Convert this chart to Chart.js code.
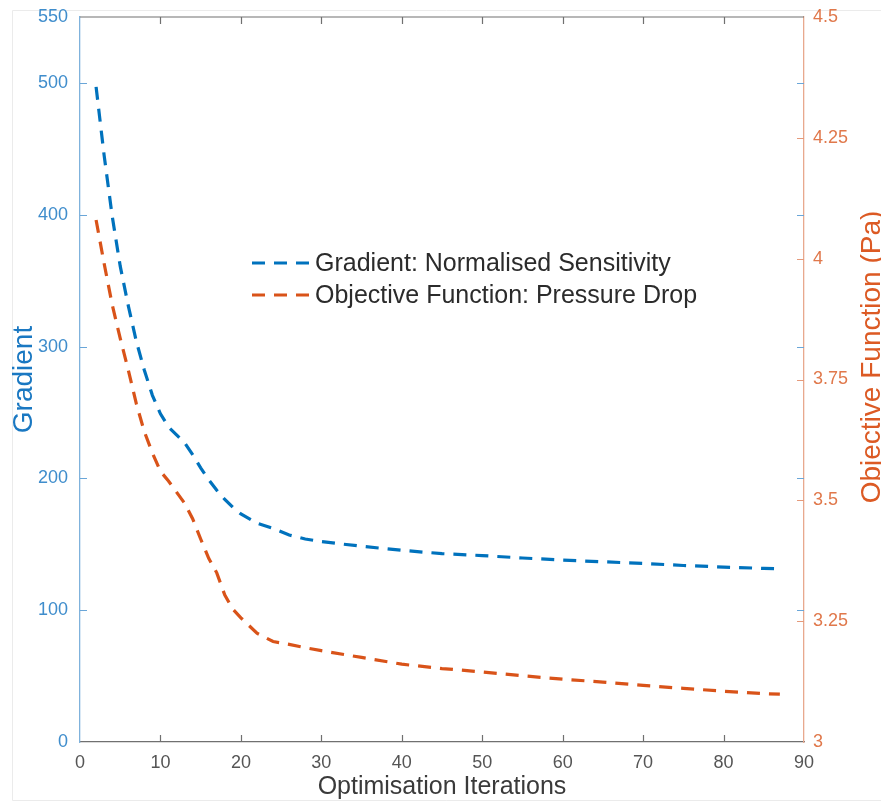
<!DOCTYPE html>
<html>
<head>
<meta charset="utf-8">
<title>Optimisation convergence</title>
<script src="https://cdn.jsdelivr.net/npm/chart.js@4"></script>
<style>
  html, body { margin: 0; padding: 0; background: #ffffff; }
  #wrap { width: 881px; height: 803px; position: relative; overflow: hidden; }
</style>
</head>
<body>
<div id="wrap"><canvas id="chart" width="881" height="803"></canvas></div>
<script>
// Optimisation iteration at which each value was recorded
const iterations = [2, 3, 4, 5, 6, 7, 8, 9, 10, 11, 12, 13, 14, 15, 16, 17, 18, 19, 20,
  22, 24, 26, 28, 30, 35, 40, 45, 50, 55, 60, 65, 70, 75, 80, 85, 87];

// Normalised sensitivity (left axis)
const gradient = [497, 445, 399, 361, 331, 304, 282, 263, 249, 239, 233, 227, 218, 208, 199, 191, 184, 178, 173,
  166, 162, 157, 154, 152, 148.5, 145.4, 142.9, 141.4, 139.6, 138.0, 136.7, 135.5, 133.9, 132.7, 131.7, 131.5];

// Pressure drop in Pa (right axis)
const pressureDrop = [4.08, 3.99, 3.905, 3.835, 3.77, 3.70, 3.642, 3.598, 3.56, 3.54, 3.517, 3.494, 3.462, 3.42, 3.38, 3.35, 3.304, 3.275, 3.257,
  3.225, 3.208, 3.202, 3.195, 3.189, 3.175, 3.161, 3.152, 3.145, 3.137, 3.130, 3.124, 3.117, 3.111, 3.105, 3.100, 3.099];

// Tick values
const xTicks = [0, 10, 20, 30, 40, 50, 60, 70, 80, 90];
const gradientTicks = [0, 100, 200, 300, 400, 500, 550];
const pressureTicks = [3, 3.25, 3.5, 3.75, 4, 4.25, 4.5];

const seriesNames = ['Gradient: Normalised Sensitivity', 'Objective Function: Pressure Drop'];

const BLUE = '#0072BD';
const ORANGE = '#D95319';
const FONT = "'Liberation Sans', Arial, Helvetica, sans-serif";
const DASH = [13, 9];

const points = (ys) => iterations.map((x, i) => ({ x, y: ys[i] }));
const setTicks = (values) => (scale) => { scale.ticks = values.map(v => ({ value: v })); };
// fixed box sizes so the plot area sits at the same place every time
const fixWidth = (w) => (s) => { s.width = w; s.paddingTop = 0; s.paddingBottom = 0; };

// Frame, top edge, inward tick marks, right-hand title and in-plot legend
const decor = {
  id: 'decor',
  beforeDraw(chart) {
    const ctx = chart.ctx;
    ctx.save();
    ctx.fillStyle = '#ffffff';
    ctx.fillRect(0, 0, chart.width, chart.height);
    ctx.strokeStyle = '#ebebeb';
    ctx.lineWidth = 1;
    ctx.beginPath();
    ctx.moveTo(chart.width, 10.5);
    ctx.lineTo(12.5, 10.5);
    ctx.lineTo(12.5, 800.5);
    ctx.lineTo(chart.width, 800.5);
    ctx.stroke();
    ctx.restore();
  },
  afterDraw(chart) {
    const { ctx, chartArea: a, scales } = chart;
    const x = scales.x, y = scales.y, y1 = scales.y1;
    const TL = 7;
    ctx.save();

    // top edge of the box
    ctx.strokeStyle = '#707070';
    ctx.lineWidth = 1.2;
    ctx.beginPath();
    ctx.moveTo(a.left, a.top);
    ctx.lineTo(a.right, a.top);
    ctx.stroke();

    // x ticks, bottom and top, pointing inward
    ctx.beginPath();
    xTicks.forEach(v => {
      if (v === x.min || v === x.max) return;
      const px = Math.round(x.getPixelForValue(v)) + 0.5;
      ctx.moveTo(px, a.bottom); ctx.lineTo(px, a.bottom - TL);
      ctx.moveTo(px, a.top); ctx.lineTo(px, a.top + TL);
    });
    ctx.stroke();

    // gradient ticks on both vertical edges
    ctx.strokeStyle = '#6aa6d8';
    ctx.beginPath();
    gradientTicks.forEach(v => {
      if (v === y.min || v === y.max) return;
      const py = Math.round(y.getPixelForValue(v)) + 0.5;
      ctx.moveTo(a.left, py); ctx.lineTo(a.left + TL, py);
      ctx.moveTo(a.right, py); ctx.lineTo(a.right - TL, py);
    });
    ctx.stroke();

    // pressure ticks on the right edge
    ctx.strokeStyle = '#e59a7b';
    ctx.beginPath();
    pressureTicks.forEach(v => {
      if (v === y1.min || v === y1.max) return;
      const py = Math.round(y1.getPixelForValue(v)) + 0.5;
      ctx.moveTo(a.right, py); ctx.lineTo(a.right - TL, py);
    });
    ctx.stroke();

    // right axis title, reading upward
    ctx.save();
    ctx.translate(880, 357);
    ctx.rotate(-Math.PI / 2);
    ctx.font = '28px ' + FONT;
    ctx.fillStyle = '#dc5a24';
    ctx.textAlign = 'center';
    ctx.textBaseline = 'alphabetic';
    ctx.fillText('Objective Function (Pa)', 0, 0);
    ctx.restore();

    // legend
    const rows = [263, 295];
    chart.data.datasets.forEach((ds, i) => {
      const ly = rows[i];
      ctx.save();
      ctx.strokeStyle = ds.borderColor;
      ctx.lineWidth = ds.borderWidth;
      ctx.setLineDash(DASH);
      ctx.beginPath();
      ctx.moveTo(252, ly);
      ctx.lineTo(311, ly);
      ctx.stroke();
      ctx.restore();
      ctx.font = '25px ' + FONT;
      ctx.fillStyle = '#2b2b2b';
      ctx.textAlign = 'left';
      ctx.textBaseline = 'middle';
      ctx.fillText(ds.label, 315, ly + 1);
    });

    ctx.restore();
  }
};

new Chart(document.getElementById('chart'), {
  type: 'line',
  data: {
    datasets: [
      {
        label: seriesNames[0],
        data: points(gradient),
        yAxisID: 'y',
        borderColor: BLUE,
        borderWidth: 3.2,
        borderDash: DASH,
        borderCapStyle: 'butt',
        pointRadius: 0,
        tension: 0,
        fill: false
      },
      {
        label: seriesNames[1],
        data: points(pressureDrop),
        yAxisID: 'y1',
        borderColor: ORANGE,
        borderWidth: 3.2,
        borderDash: DASH,
        borderCapStyle: 'butt',
        pointRadius: 0,
        tension: 0,
        fill: false
      }
    ]
  },
  options: {
    responsive: false,
    animation: false,
    devicePixelRatio: 1,
    layout: { padding: { top: 17, left: 0, right: 0, bottom: 0 } },
    plugins: {
      legend: { display: false },
      tooltip: { enabled: false }
    },
    scales: {
      x: {
        type: 'linear',
        position: 'bottom',
        min: 0,
        max: 90,
        afterBuildTicks: setTicks(xTicks),
        afterFit: (s) => { s.height = 61; },
        grid: { display: false, drawTicks: false },
        border: { display: true, color: '#707070', width: 1.2 },
        ticks: {
          padding: 10,
          color: '#555555',
          font: { family: FONT, size: 18 },
          maxRotation: 0,
          callback: (v) => String(v)
        },
        title: {
          display: true,
          text: 'Optimisation Iterations',
          color: '#3a3a3a',
          font: { family: FONT, size: 25 },
          padding: { top: 0, bottom: 1 }
        }
      },
      y: {
        type: 'linear',
        position: 'left',
        min: 0,
        max: 550,
        afterBuildTicks: setTicks(gradientTicks),
        afterFit: fixWidth(80),
        grid: { display: false, drawTicks: false },
        border: { display: true, color: '#7fb2dc', width: 1.3 },
        ticks: {
          padding: 12,
          color: '#3f8dcc',
          font: { family: FONT, size: 18 },
          callback: (v) => String(v)
        },
        title: {
          display: true,
          text: 'Gradient',
          color: '#1a78c2',
          font: { family: FONT, size: 28 },
          padding: { top: 7, bottom: 0 }
        }
      },
      y1: {
        type: 'linear',
        position: 'right',
        min: 3,
        max: 4.5,
        afterBuildTicks: setTicks(pressureTicks),
        afterFit: fixWidth(77),
        grid: { display: false, drawTicks: false },
        border: { display: true, color: '#e8a98e', width: 1.3 },
        ticks: {
          padding: 9,
          color: '#e0784b',
          font: { family: FONT, size: 18 },
          callback: (v) => String(v)
        }
      }
    }
  },
  plugins: [decor]
});
</script>
</body>
</html>
